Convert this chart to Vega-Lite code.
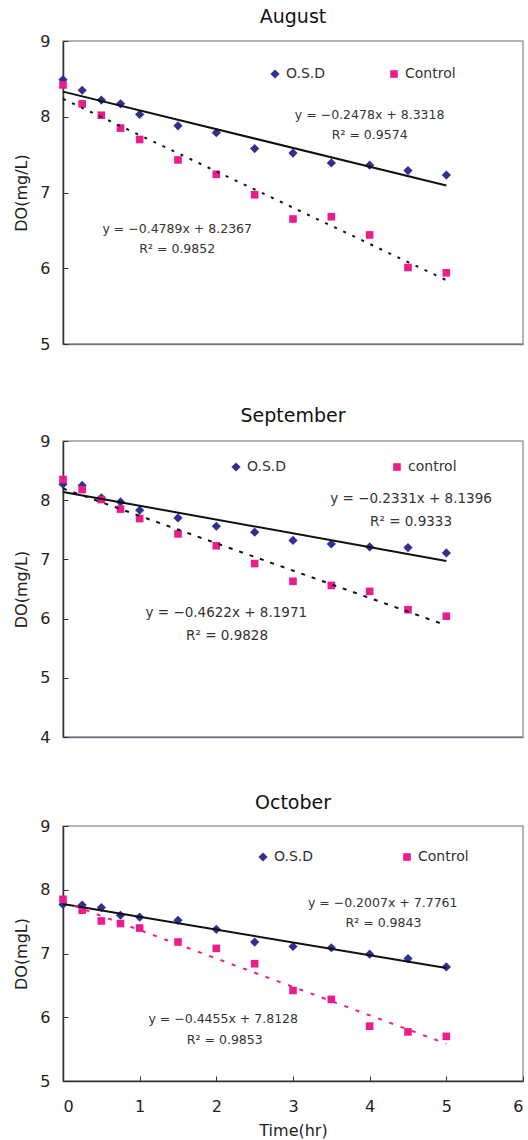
{
  "$schema": "https://vega.github.io/schema/vega-lite/v6.json",
  "padding": {"left": 13, "top": 7, "right": 0, "bottom": 0},
  "background": "white",
  "spacing": 47,
  "config": {
    "font": "DejaVu Sans",
    "view": {"stroke": "#9a9a9a", "strokeWidth": 1.5},
    "axis": {"grid": false, "labelFont": "DejaVu Sans", "titleFont": "DejaVu Sans", "labelColor": "#222", "titleColor": "#222", "titleFontWeight": "normal", "labelFontSize": 16, "titleFontSize": 16},
    "title": {"font": "DejaVu Sans", "fontWeight": "normal", "fontSize": 19, "color": "#111"},
    "legend": {"labelFont": "DejaVu Sans", "labelFontSize": 14, "labelColor": "#333"}
  },
  "resolve": {
    "scale": {"x": "independent", "y": "independent", "color": "independent", "shape": "independent", "size": "independent"},
    "axis": {"x": "independent", "y": "independent"},
    "legend": {"color": "independent", "shape": "independent"}
  },
  "datasets": {
    "aug": [
      {"t": 0, "v": 8.49, "s": "O.S.D"}, {"t": 0.25, "v": 8.35, "s": "O.S.D"}, {"t": 0.5, "v": 8.22, "s": "O.S.D"}, {"t": 0.75, "v": 8.17, "s": "O.S.D"}, {"t": 1, "v": 8.03, "s": "O.S.D"}, {"t": 1.5, "v": 7.88, "s": "O.S.D"}, {"t": 2, "v": 7.79, "s": "O.S.D"}, {"t": 2.5, "v": 7.58, "s": "O.S.D"}, {"t": 3, "v": 7.52, "s": "O.S.D"}, {"t": 3.5, "v": 7.39, "s": "O.S.D"}, {"t": 4, "v": 7.36, "s": "O.S.D"}, {"t": 4.5, "v": 7.29, "s": "O.S.D"}, {"t": 5, "v": 7.23, "s": "O.S.D"},
      {"t": 0, "v": 8.42, "s": "Control"}, {"t": 0.25, "v": 8.17, "s": "Control"}, {"t": 0.5, "v": 8.02, "s": "Control"}, {"t": 0.75, "v": 7.85, "s": "Control"}, {"t": 1, "v": 7.70, "s": "Control"}, {"t": 1.5, "v": 7.43, "s": "Control"}, {"t": 2, "v": 7.24, "s": "Control"}, {"t": 2.5, "v": 6.97, "s": "Control"}, {"t": 3, "v": 6.65, "s": "Control"}, {"t": 3.5, "v": 6.68, "s": "Control"}, {"t": 4, "v": 6.44, "s": "Control"}, {"t": 4.5, "v": 6.01, "s": "Control"}, {"t": 5, "v": 5.94, "s": "Control"}
    ],
    "sep": [
      {"t": 0, "v": 8.27, "s": "O.S.D"}, {"t": 0.25, "v": 8.25, "s": "O.S.D"}, {"t": 0.5, "v": 8.04, "s": "O.S.D"}, {"t": 0.75, "v": 7.97, "s": "O.S.D"}, {"t": 1, "v": 7.83, "s": "O.S.D"}, {"t": 1.5, "v": 7.70, "s": "O.S.D"}, {"t": 2, "v": 7.56, "s": "O.S.D"}, {"t": 2.5, "v": 7.46, "s": "O.S.D"}, {"t": 3, "v": 7.32, "s": "O.S.D"}, {"t": 3.5, "v": 7.26, "s": "O.S.D"}, {"t": 4, "v": 7.21, "s": "O.S.D"}, {"t": 4.5, "v": 7.20, "s": "O.S.D"}, {"t": 5, "v": 7.11, "s": "O.S.D"},
      {"t": 0, "v": 8.35, "s": "control"}, {"t": 0.25, "v": 8.18, "s": "control"}, {"t": 0.5, "v": 8.01, "s": "control"}, {"t": 0.75, "v": 7.85, "s": "control"}, {"t": 1, "v": 7.69, "s": "control"}, {"t": 1.5, "v": 7.43, "s": "control"}, {"t": 2, "v": 7.23, "s": "control"}, {"t": 2.5, "v": 6.93, "s": "control"}, {"t": 3, "v": 6.63, "s": "control"}, {"t": 3.5, "v": 6.56, "s": "control"}, {"t": 4, "v": 6.46, "s": "control"}, {"t": 4.5, "v": 6.15, "s": "control"}, {"t": 5, "v": 6.04, "s": "control"}
    ],
    "oct": [
      {"t": 0, "v": 7.77, "s": "O.S.D"}, {"t": 0.25, "v": 7.76, "s": "O.S.D"}, {"t": 0.5, "v": 7.72, "s": "O.S.D"}, {"t": 0.75, "v": 7.60, "s": "O.S.D"}, {"t": 1, "v": 7.57, "s": "O.S.D"}, {"t": 1.5, "v": 7.52, "s": "O.S.D"}, {"t": 2, "v": 7.38, "s": "O.S.D"}, {"t": 2.5, "v": 7.18, "s": "O.S.D"}, {"t": 3, "v": 7.11, "s": "O.S.D"}, {"t": 3.5, "v": 7.09, "s": "O.S.D"}, {"t": 4, "v": 6.99, "s": "O.S.D"}, {"t": 4.5, "v": 6.92, "s": "O.S.D"}, {"t": 5, "v": 6.79, "s": "O.S.D"},
      {"t": 0, "v": 7.85, "s": "Control"}, {"t": 0.25, "v": 7.68, "s": "Control"}, {"t": 0.5, "v": 7.51, "s": "Control"}, {"t": 0.75, "v": 7.47, "s": "Control"}, {"t": 1, "v": 7.40, "s": "Control"}, {"t": 1.5, "v": 7.18, "s": "Control"}, {"t": 2, "v": 7.08, "s": "Control"}, {"t": 2.5, "v": 6.84, "s": "Control"}, {"t": 3, "v": 6.42, "s": "Control"}, {"t": 3.5, "v": 6.28, "s": "Control"}, {"t": 4, "v": 5.86, "s": "Control"}, {"t": 4.5, "v": 5.77, "s": "Control"}, {"t": 5, "v": 5.70, "s": "Control"}
    ],
    "augFit": [
      {"t": 0, "v": 8.3318, "s": "O.S.D"}, {"t": 5, "v": 7.0928, "s": "O.S.D"},
      {"t": 0, "v": 8.2367, "s": "Control"}, {"t": 5, "v": 5.8422, "s": "Control"}
    ],
    "sepFit": [
      {"t": 0, "v": 8.1396, "s": "O.S.D"}, {"t": 5, "v": 6.9741, "s": "O.S.D"},
      {"t": 0, "v": 8.1971, "s": "control"}, {"t": 5, "v": 5.8861, "s": "control"}
    ],
    "octFit": [
      {"t": 0, "v": 7.7761, "s": "O.S.D"}, {"t": 5, "v": 6.7726, "s": "O.S.D"},
      {"t": 0, "v": 7.8128, "s": "Control"}, {"t": 5, "v": 5.5853, "s": "Control"}
    ],
    "augTxt": [
      {"t": 4.0, "v": 8.02, "label": "y = −0.2478x + 8.3318"},
      {"t": 4.0, "v": 7.76, "label": "R² = 0.9574"},
      {"t": 1.49, "v": 6.52, "label": "y = −0.4789x + 8.2367"},
      {"t": 1.49, "v": 6.25, "label": "R² = 0.9852"}
    ],
    "sepTxt": [
      {"t": 4.54, "v": 8.02, "label": "y = −0.2331x + 8.1396"},
      {"t": 4.54, "v": 7.63, "label": "R² = 0.9333"},
      {"t": 2.13, "v": 6.10, "label": "y = −0.4622x + 8.1971"},
      {"t": 2.14, "v": 5.71, "label": "R² = 0.9828"}
    ],
    "octTxt": [
      {"t": 4.17, "v": 7.79, "label": "y = −0.2007x + 7.7761"},
      {"t": 4.18, "v": 7.48, "label": "R² = 0.9843"},
      {"t": 2.09, "v": 5.97, "label": "y = −0.4455x + 7.8128"},
      {"t": 2.11, "v": 5.64, "label": "R² = 0.9853"}
    ]
  },
  "vconcat": [
    {
      "title": {"text": "August", "offset": 6},
      "width": 460,
      "height": 303,
      "layer": [
        {
          "data": {"name": "aug"},
          "mark": {"type": "point", "filled": true, "opacity": 1},
          "encoding": {
            "x": {"field": "t", "type": "quantitative", "scale": {"domain": [0, 6], "nice": false}, "axis": {"labels": false, "ticks": true, "tickSize": 13, "tickColor": "white", "values": [0, 6], "title": null, "domainColor": "#6e7681", "domainWidth": 1.5}},
            "y": {"field": "v", "type": "quantitative", "scale": {"domain": [5, 9], "nice": false, "zero": false}, "axis": {"title": "DO(mg/L)", "values": [5, 6, 7, 8, 9], "format": "d", "tickSize": -5, "tickColor": "#333", "domainColor": "#333", "domainWidth": 1.5, "labelPadding": 18, "titlePadding": 10}},
            "color": {"field": "s", "type": "nominal", "scale": {"domain": ["O.S.D", "Control"], "range": ["#2E3192", "#EC1C8C"]}, "legend": {"orient": "none", "legendX": 205, "legendY": 26, "direction": "horizontal", "title": null, "symbolSize": 40, "columnPadding": 61, "labelOffset": 4}},
            "shape": {"field": "s", "type": "nominal", "scale": {"domain": ["O.S.D", "Control"], "range": ["diamond", "square"]}, "legend": {"orient": "none", "legendX": 205, "legendY": 26, "direction": "horizontal", "title": null, "symbolSize": 40, "columnPadding": 61, "labelOffset": 4}},
            "size": {"field": "s", "type": "nominal", "scale": {"domain": ["O.S.D", "Control"], "range": [85, 58]}, "legend": null}
          }
        },
        {
          "data": {"name": "augFit"},
          "transform": [{"filter": "datum.s === 'O.S.D'"}],
          "mark": {"type": "line", "color": "#111", "strokeWidth": 2},
          "encoding": {"x": {"field": "t", "type": "quantitative"}, "y": {"field": "v", "type": "quantitative"}}
        },
        {
          "data": {"name": "augFit"},
          "transform": [{"filter": "datum.s === 'Control'"}],
          "mark": {"type": "line", "color": "#111", "strokeWidth": 2, "strokeDash": [3, 7]},
          "encoding": {"x": {"field": "t", "type": "quantitative"}, "y": {"field": "v", "type": "quantitative"}}
        },
        {
          "data": {"name": "augTxt"},
          "mark": {"type": "text", "fontSize": 12.5, "color": "#333", "baseline": "middle", "align": "center"},
          "encoding": {"x": {"field": "t", "type": "quantitative"}, "y": {"field": "v", "type": "quantitative"}, "text": {"field": "label"}}
        }
      ]
    },
    {
      "title": {"text": "September", "offset": 7},
      "width": 460,
      "height": 296,
      "layer": [
        {
          "data": {"name": "sep"},
          "mark": {"type": "point", "filled": true, "opacity": 1},
          "encoding": {
            "x": {"field": "t", "type": "quantitative", "scale": {"domain": [0, 6], "nice": false}, "axis": {"labels": false, "ticks": false, "title": null, "domainColor": "#6e7681", "domainWidth": 1.5}},
            "y": {"field": "v", "type": "quantitative", "scale": {"domain": [4, 9], "nice": false, "zero": false}, "axis": {"title": "DO(mg/L)", "values": [4, 5, 6, 7, 8, 9], "format": "d", "tickSize": -5, "tickColor": "#333", "domainColor": "#333", "domainWidth": 1.5, "labelPadding": 18, "titlePadding": 10}},
            "color": {"field": "s", "type": "nominal", "scale": {"domain": ["O.S.D", "control"], "range": ["#2E3192", "#EC1C8C"]}, "legend": {"orient": "none", "legendX": 166, "legendY": 19, "direction": "horizontal", "title": null, "symbolSize": 40, "columnPadding": 103, "labelOffset": 4}},
            "shape": {"field": "s", "type": "nominal", "scale": {"domain": ["O.S.D", "control"], "range": ["diamond", "square"]}, "legend": {"orient": "none", "legendX": 166, "legendY": 19, "direction": "horizontal", "title": null, "symbolSize": 40, "columnPadding": 103, "labelOffset": 4}},
            "size": {"field": "s", "type": "nominal", "scale": {"domain": ["O.S.D", "control"], "range": [85, 58]}, "legend": null}
          }
        },
        {
          "data": {"name": "sepFit"},
          "transform": [{"filter": "datum.s === 'O.S.D'"}],
          "mark": {"type": "line", "color": "#111", "strokeWidth": 2},
          "encoding": {"x": {"field": "t", "type": "quantitative"}, "y": {"field": "v", "type": "quantitative"}}
        },
        {
          "data": {"name": "sepFit"},
          "transform": [{"filter": "datum.s === 'control'"}],
          "mark": {"type": "line", "color": "#111", "strokeWidth": 2, "strokeDash": [4, 7]},
          "encoding": {"x": {"field": "t", "type": "quantitative"}, "y": {"field": "v", "type": "quantitative"}}
        },
        {
          "data": {"name": "sepTxt"},
          "mark": {"type": "text", "fontSize": 13.5, "color": "#333", "baseline": "middle", "align": "center"},
          "encoding": {"x": {"field": "t", "type": "quantitative"}, "y": {"field": "v", "type": "quantitative"}, "text": {"field": "label"}}
        }
      ]
    },
    {
      "title": {"text": "October", "offset": 5},
      "width": 460,
      "height": 255,
      "layer": [
        {
          "data": {"name": "oct"},
          "mark": {"type": "point", "filled": true, "opacity": 1},
          "encoding": {
            "x": {"field": "t", "type": "quantitative", "scale": {"domain": [0, 6], "nice": false}, "axis": {"title": "Time(hr)", "values": [0, 1, 2, 3, 4, 5, 6], "format": "d", "tickSize": -5, "tickColor": "#333", "domainColor": "#333", "domainWidth": 1.5, "labelPadding": 22, "titlePadding": 8}},
            "y": {"field": "v", "type": "quantitative", "scale": {"domain": [5, 9], "nice": false, "zero": false}, "axis": {"title": "DO(mgL)", "values": [5, 6, 7, 8, 9], "format": "d", "tickSize": -5, "tickColor": "#333", "domainColor": "#333", "domainWidth": 1.5, "labelPadding": 18, "titlePadding": 10}},
            "color": {"field": "s", "type": "nominal", "scale": {"domain": ["O.S.D", "Control"], "range": ["#2E3192", "#EC1C8C"]}, "legend": {"orient": "none", "legendX": 193, "legendY": 24, "direction": "horizontal", "title": null, "symbolSize": 40, "columnPadding": 86, "labelOffset": 4}},
            "shape": {"field": "s", "type": "nominal", "scale": {"domain": ["O.S.D", "Control"], "range": ["diamond", "square"]}, "legend": {"orient": "none", "legendX": 193, "legendY": 24, "direction": "horizontal", "title": null, "symbolSize": 40, "columnPadding": 86, "labelOffset": 4}},
            "size": {"field": "s", "type": "nominal", "scale": {"domain": ["O.S.D", "Control"], "range": [85, 58]}, "legend": null}
          }
        },
        {
          "data": {"name": "octFit"},
          "transform": [{"filter": "datum.s === 'O.S.D'"}],
          "mark": {"type": "line", "color": "#111", "strokeWidth": 2},
          "encoding": {"x": {"field": "t", "type": "quantitative"}, "y": {"field": "v", "type": "quantitative"}}
        },
        {
          "data": {"name": "octFit"},
          "transform": [{"filter": "datum.s === 'Control'"}],
          "mark": {"type": "line", "color": "#EC1C8C", "strokeWidth": 2, "strokeDash": [4, 8]},
          "encoding": {"x": {"field": "t", "type": "quantitative"}, "y": {"field": "v", "type": "quantitative"}}
        },
        {
          "data": {"name": "octTxt"},
          "mark": {"type": "text", "fontSize": 12.5, "color": "#333", "baseline": "middle", "align": "center"},
          "encoding": {"x": {"field": "t", "type": "quantitative"}, "y": {"field": "v", "type": "quantitative"}, "text": {"field": "label"}}
        }
      ]
    }
  ]
}
